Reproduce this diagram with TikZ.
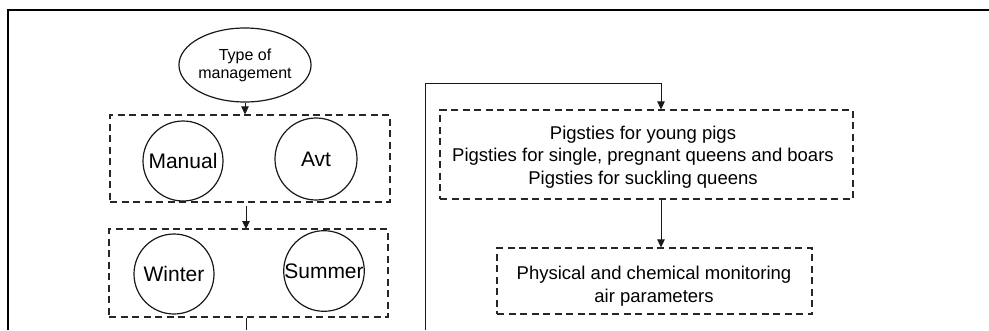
\documentclass[tikz,border=0pt]{standalone}
\usepackage{fontspec}
\setmainfont{Liberation Sans}
\usetikzlibrary{arrows.meta,shapes.geometric}
\begin{document}
\begin{tikzpicture}[x=1pt,y=-1pt,
  dbox/.style={draw=black!85, line width=1.2pt, dash pattern=on 7pt off 4.5pt, rectangle, inner sep=0pt},
  circ/.style={draw=black!90, line width=1.2pt, circle, inner sep=0pt, font=\fontsize{21}{23}\selectfont},
  conn/.style={draw=black!90, line width=1pt},
  arr/.style={conn, -{Triangle[length=8pt,width=7.5pt]}},
  btxt/.style={font=\fontsize{18.5}{22.5}\selectfont, align=center}]
\useasboundingbox (0,0) rectangle (989,330);
\draw[line width=1.8pt, black] (8,330) -- (8,10) -- (989,10);
% left column
\node[draw=black!90, line width=1.2pt, ellipse, minimum width=108pt, minimum height=74pt, inner sep=0pt,
      font=\fontsize{16}{18}\selectfont, align=center] (type) at (245,65) {Type of\\management};
\node[dbox, minimum width=280pt, minimum height=87pt] (box1) at (250,158.5) {};
\node[circ, minimum size=80pt] (manual) at (183,161) {Manual};
\node[circ, minimum size=82pt] (avt) at (316,159) {Avt};
\node[dbox, minimum width=279pt, minimum height=88pt] (box2) at (248.5,273) {};
\node[circ, minimum size=80pt] (winter) at (174,274) {Winter};
\node[circ, minimum size=79pt] (summer) at (324,271) {Summer};
\coordinate (a1) at (246,206);
\coordinate (a2) at (246,229);
\coordinate (down) at (246,330);
\draw[arr] (type.south) -- (type.south |- box1.north);
\draw[arr] (a1) -- (a2);
\draw[conn] (box2.south -| down) -- (down);
% right column
\node[dbox, minimum width=413pt, minimum height=89pt] (box3) at (646.5,154.5) {};
\node[btxt] (t3) at (643,157) {Pigsties for young pigs\\Pigsties for single, pregnant queens and boars\\Pigsties for suckling queens};
\node[dbox, minimum width=315pt, minimum height=66pt] (box4) at (654.5,281) {};
\node[btxt] (t4) at (654,286) {Physical and chemical monitoring\\air parameters};
\coordinate (up) at (425,330);
\coordinate (corner) at (425,83);
\coordinate (top) at (661,83);
\draw[arr] (up) -- (corner) -- (top) -- (top |- box3.north);
\draw[arr] (box3.south -| top) -- (top |- box4.north);
\end{tikzpicture}
\end{document}
